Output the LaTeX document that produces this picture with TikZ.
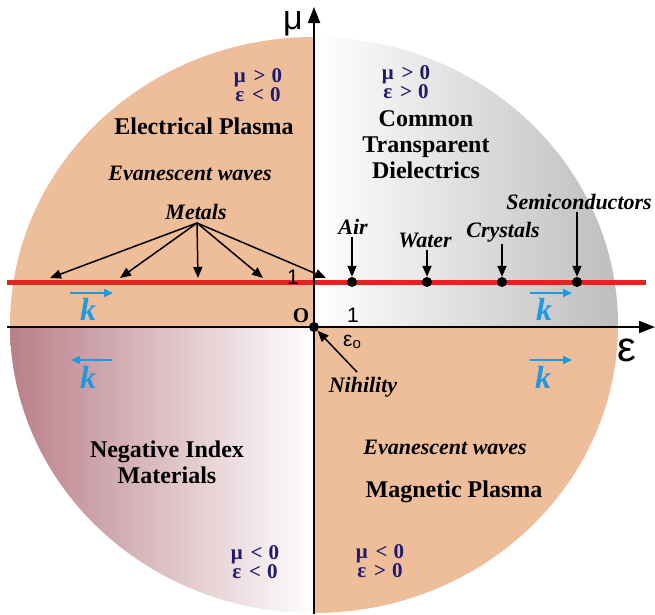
\documentclass[tikz,border=0pt]{standalone}
\usepackage{fontspec}
\setmainfont{Liberation Serif}
\newfontfamily\axisfont{Liberation Sans}
\usetikzlibrary{arrows.meta}
\definecolor{orng}{HTML}{EEBE9A}
\definecolor{grayr}{HTML}{BDBDBD}
\definecolor{mauve}{HTML}{B97E88}
\definecolor{navyc}{HTML}{1F1A6E}
\definecolor{kblue}{HTML}{1E9BE0}
\definecolor{redl}{HTML}{DE2520}
\newcommand{\gapA}{\hspace{8pt}}
\newcommand{\gapB}{\hspace{6pt}}
\begin{document}
\begin{tikzpicture}[x=1pt,y=-1pt,
  title/.style={font=\fontsize{24}{26}\selectfont\bfseries, align=center, inner sep=0pt},
  lab/.style={font=\fontsize{22}{24}\selectfont\bfseries\itshape, inner sep=0pt},
  cond/.style={font=\fontsize{21}{19.5}\selectfont\bfseries, text=navyc, align=center, inner sep=0pt},
  kvec/.style={font=\fontsize{32}{32}\selectfont\bfseries\itshape, text=kblue, inner sep=0pt},
  karr/.style={-{Triangle[length=9pt,width=8pt]}, line width=1.8pt, draw=kblue},
  arr/.style={-{Triangle[length=11pt,width=9pt]}, line width=1.5pt},
  ax/.style={font=\axisfont, inner sep=0pt},
  dotn/.style={circle, fill=black, inner sep=0pt, minimum size=10pt}]
\useasboundingbox (0,0) rectangle (655,614);
% quadrants
\begin{scope}
  \clip (314,325) ellipse [x radius=304, y radius=288];
  \fill[orng] (0,0) rectangle (314,327);
  \fill[orng] (314,327) rectangle (655,614);
  \shade[left color=white, right color=grayr] (314,0) rectangle (620,327);
  \shade[left color=mauve, right color=white] (8,327) rectangle (314,614);
\end{scope}
% red line
\draw[redl, line width=5pt] (7,282) -- (646,282);
% axes
\coordinate (xs) at (7,327);
\coordinate (xe) at (655,327);
\coordinate (ys) at (314,614);
\coordinate (ye) at (314,7);
\draw[-{Triangle[length=16pt,width=12pt]}, line width=1.8pt] (xs) -- (xe);
\draw[-{Triangle[length=16pt,width=12pt]}, line width=1.8pt] (ys) -- (ye);
\node[ax, font=\axisfont\fontsize{34}{34}\selectfont] (mu) at (293,24) {μ};
\node[ax, font=\axisfont\fontsize{42}{42}\selectfont] (eps) at (627,350) {ε};
\node[dotn] (O) at (314,327) {};
\node[font=\fontsize{21}{21}\selectfont\bfseries, inner sep=0pt] (Olab) at (301,316) {O};
\node[ax, font=\axisfont\fontsize{21}{21}\selectfont] (one1) at (293,277) {1};
\node[ax, font=\axisfont\fontsize{21}{21}\selectfont] (one2) at (353,315) {1};
\node[ax, font=\axisfont\fontsize{21}{21}\selectfont] (eps0) at (352,342) {ε\raisebox{-0.25ex}{\fontsize{15}{15}\selectfont o}};
% quadrant texts
\node[cond] (c1) at (258,85) {μ\gapA>\gapB0\\ε\gapA<\gapB0};
\node[title] (ep) at (204,126) {Electrical Plasma};
\node[lab] (ev1) at (190,173) {Evanescent waves};
\node[lab] (met) at (196,212) {Metals};
\node[cond] (c2) at (406,82) {μ\gapA>\gapB0\\ε\gapA>\gapB0};
\node[title] (ctd) at (426,145) {Common\\Transparent\\Dielectrics};
\node[title] (nim) at (167,462) {Negative Index\\Materials};
\node[cond] (c3) at (255,562) {μ\gapA<\gapB0\\ε\gapA<\gapB0};
\node[lab] (ev2) at (445,447) {Evanescent waves};
\node[title] (mp) at (454,492) {Magnetic Plasma};
\node[cond] (c4) at (380,561) {μ\gapA<\gapB0\\ε\gapA>\gapB0};
% materials on red line
\node[dotn] (dair) at (352,282) {};
\node[dotn] (dwat) at (427,282) {};
\node[dotn] (dcry) at (502,282) {};
\node[dotn] (dsem) at (577,282) {};
\node[lab] (air) at (353,227) {Air};
\node[lab] (wat) at (425,240) {Water};
\node[lab] (cry) at (503,232) {Crystals};
\node[lab] (sem) at (579,202) {Semiconductors};
\draw[arr] ([yshift=-2pt]air.south -| dair) -- (dair.north);
\draw[arr] ([yshift=-2pt]wat.south -| dwat) -- (dwat.north);
\draw[arr] ([yshift=-2pt]cry.south -| dcry) -- (dcry.north);
\draw[arr] ([yshift=-2pt]sem.south -| dsem) -- (dsem.north);
% metals arrows
\coordinate (m0) at (197,223);
\coordinate (m1) at (50,278);
\coordinate (m2) at (120,278);
\coordinate (m3) at (198,278);
\coordinate (m4) at (263,278);
\coordinate (m5) at (326,278);
\foreach \m in {m1,m2,m3,m4,m5} \draw[arr] (m0) -- (\m);
% nihility
\node[lab] (nih) at (363,387) {Nihility};
\coordinate (nihs) at (357,372);
\draw[arr] (nihs) -- (O);
% k vectors
\node[kvec] (k1) at (88,309) {k};
\coordinate (k1a) at (70,293); \coordinate (k1b) at (113,293);
\draw[karr] (k1a) -- (k1b);
\node[kvec] (k2) at (544,309) {k};
\coordinate (k2a) at (530,293); \coordinate (k2b) at (572,293);
\draw[karr] (k2a) -- (k2b);
\node[kvec] (k3) at (88,377) {k};
\coordinate (k3a) at (112,360); \coordinate (k3b) at (71,360);
\draw[karr] (k3a) -- (k3b);
\node[kvec] (k4) at (543,377) {k};
\coordinate (k4a) at (530,360); \coordinate (k4b) at (572,360);
\draw[karr] (k4a) -- (k4b);
\end{tikzpicture}
\end{document}
